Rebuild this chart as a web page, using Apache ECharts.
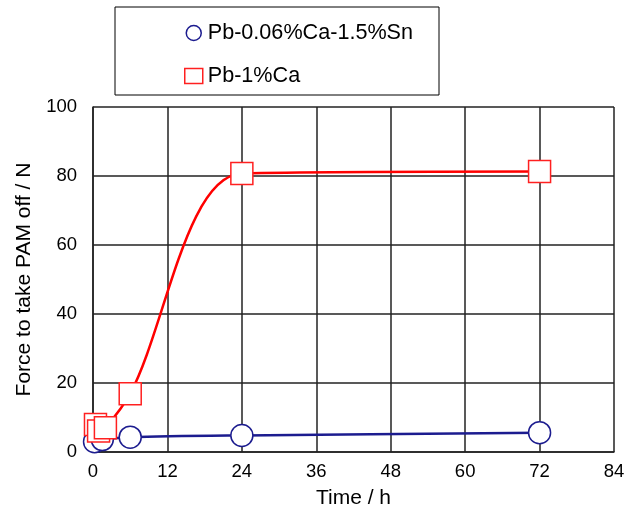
<!DOCTYPE html>
<html>
<head>
<meta charset="utf-8">
<script src="https://cdn.jsdelivr.net/npm/echarts@6/dist/echarts.min.js"></script>
<style>
  html, body { margin: 0; padding: 0; background: #fff; }
  #chart { width: 630px; height: 515px; }
</style>
</head>
<body>
<div id="chart"></div>
<script>
const FONT = "'Liberation Sans', Arial, sans-serif";

// Pb-0.06%Ca-1.5%Sn
const snTime = [0.25, 1.5, 6, 24, 72];
const snForce = [3, 3.6, 4.3, 4.8, 5.6];

// Pb-1%Ca
const caTime = [0.4, 0.9, 2, 6, 24, 72];
const caForce = [8, 6.1, 7, 16.9, 80.7, 81.3];

const seriesNames = ['Pb-0.06%Ca-1.5%Sn', 'Pb-1%Ca'];
const xTicks = { min: 0, max: 84, interval: 12 };
const yTicks = { min: 0, max: 100, interval: 20 };

const pairs = (xs, ys) => xs.map((x, i) => [x, ys[i]]);

const chart = echarts.init(document.getElementById('chart'));

chart.setOption({
  animation: false,
  backgroundColor: '#fff',
  textStyle: { fontFamily: FONT, color: '#000' },
  legend: {
    orient: 'vertical',
    left: 115,
    top: 7,
    padding: [15, 26, 8, 69],
    itemGap: 21,
    itemWidth: 18,
    itemHeight: 15,
    borderColor: '#000',
    borderWidth: 1,
    textStyle: { fontSize: 21.6, color: '#000', fontFamily: FONT },
    data: [
      { name: seriesNames[0], icon: 'circle', itemStyle: { color: '#fff', borderColor: '#1c1c8f', borderWidth: 1.5 } },
      { name: seriesNames[1], icon: 'rect', itemStyle: { color: '#fff', borderColor: '#ff2020', borderWidth: 1.5 } },
    ],
  },
  grid: { left: 93, right: 16, top: 107, bottom: 63 },
  xAxis: {
    type: 'value',
    ...xTicks,
    name: 'Time / h',
    nameLocation: 'middle',
    nameGap: 36,
    nameTextStyle: { fontSize: 21, color: '#000' },
    axisLine: { show: true, lineStyle: { color: '#222', width: 1.5 } },
    axisTick: { show: false },
    axisLabel: { fontSize: 18.5, color: '#000', margin: 10 },
    splitLine: { show: true, lineStyle: { color: '#222', width: 1.5 } },
  },
  yAxis: {
    type: 'value',
    ...yTicks,
    name: 'Force to take PAM off / N',
    nameLocation: 'middle',
    nameGap: 58,
    nameTextStyle: { fontSize: 21, color: '#000' },
    axisLine: { show: true, lineStyle: { color: '#222', width: 1.5 } },
    axisTick: { show: false },
    axisLabel: { fontSize: 18.5, color: '#000', margin: 16 },
    splitLine: { show: true, lineStyle: { color: '#222', width: 1.5 } },
  },
  series: [
    {
      name: seriesNames[0],
      type: 'line',
      smooth: 0.3,
      data: pairs(snTime, snForce),
      symbol: 'circle',
      symbolSize: 22,
      lineStyle: { color: '#1c1c8f', width: 2.5 },
      itemStyle: { color: '#fff', borderColor: '#1c1c8f', borderWidth: 1.5 },
      z: 3,
    },
    {
      name: seriesNames[1],
      type: 'line',
      smooth: 0.3,
      data: pairs(caTime, caForce),
      symbol: 'rect',
      symbolSize: 22,
      lineStyle: { color: '#ff0000', width: 2.5 },
      itemStyle: { color: '#fff', borderColor: '#ff2020', borderWidth: 1.5 },
      z: 4,
    },
  ],
});
</script>
</body>
</html>
